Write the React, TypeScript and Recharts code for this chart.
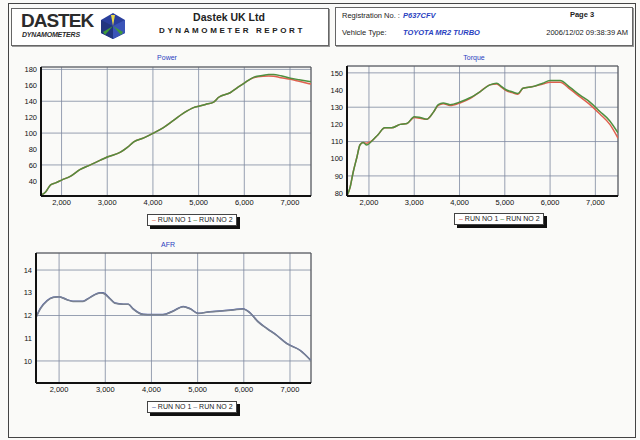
import React from 'react';
import { LineChart, Line, XAxis, YAxis, CartesianGrid, ReferenceLine } from 'recharts';

// Power (hp) vs rpm
const powerRpm = [1550, 1650, 1760, 1870, 2000, 2200, 2400, 2630, 2850, 3000, 3290, 3440, 3580, 3800, 4010, 4230, 4450, 4670, 4890, 5020, 5150, 5330, 5440, 5700, 5850, 6030, 6200, 6420, 6530, 6640, 6800, 7010, 7200, 7460];
const powerRun1 = [22, 26, 35, 37.5, 41, 46, 54, 60, 66, 70, 76, 82, 89, 94, 100, 107, 116, 125, 132, 134, 136, 139, 145, 151, 157, 164, 169.5, 171.5, 171.8, 171.5, 169.5, 167.5, 165, 161.5];
const powerRun2 = [22, 26, 35, 37.5, 41, 46, 54, 60, 66, 70, 76, 82, 89, 94, 100, 107, 116, 125, 132, 134, 136, 139, 145, 151, 157, 164, 170, 172.5, 173.5, 173.5, 172, 169, 167, 164.5];
const powerTicks = [40, 60, 80, 100, 120, 140, 160, 180];

// Torque vs rpm
const torqueRpm = [1515, 1580, 1650, 1735, 1800, 1870, 1950, 2070, 2200, 2350, 2500, 2690, 2840, 3000, 3130, 3280, 3420, 3530, 3640, 3790, 4010, 4230, 4450, 4670, 4820, 4930, 5040, 5160, 5290, 5400, 5620, 5840, 6000, 6220, 6440, 6660, 6880, 7100, 7320, 7500];
const torqueRun1 = [78.5, 83, 92, 101, 108, 109.5, 109, 110.5, 114, 118, 118, 120, 120.5, 124, 123.5, 123, 127, 131, 132, 131, 132.5, 135, 139, 143, 143.5, 141.5, 139.5, 138.5, 137.5, 141, 142, 143.5, 144.5, 144.5, 140.5, 136, 131.5, 126, 120, 112];
const torqueRun2 = [78.5, 83, 92, 101, 108, 109.5, 108, 110.5, 114, 118, 118, 120, 120.5, 124.5, 124, 123, 127, 131.5, 132.5, 131.5, 133, 135.5, 139, 143, 144, 142, 140, 139, 138, 141, 142, 144, 145.5, 145.5, 141.5, 137, 133, 127.5, 122, 115];
const torqueTicks = [80, 90, 100, 110, 120, 130, 140, 150];

// AFR vs rpm
const afrRpm = [1500, 1590, 1740, 1870, 2000, 2170, 2300, 2520, 2670, 2890, 2950, 3100, 3210, 3390, 3500, 3600, 3820, 4010, 4250, 4470, 4690, 4840, 5010, 5270, 5480, 5770, 5980, 6130, 6310, 6500, 6720, 6930, 7220, 7455];
const afrRun1 = [11.92, 12.3, 12.66, 12.8, 12.83, 12.7, 12.63, 12.63, 12.8, 13.0, 13.0, 12.75, 12.55, 12.5, 12.5, 12.3, 12.05, 12.04, 12.04, 12.2, 12.4, 12.3, 12.1, 12.17, 12.2, 12.25, 12.3, 12.13, 11.73, 11.43, 11.12, 10.77, 10.47, 10.02];
const afrRun2 = [11.9, 12.28, 12.64, 12.79, 12.82, 12.69, 12.62, 12.62, 12.79, 12.99, 12.98, 12.74, 12.54, 12.49, 12.49, 12.29, 12.04, 12.03, 12.03, 12.19, 12.39, 12.29, 12.09, 12.16, 12.19, 12.24, 12.29, 12.12, 11.72, 11.42, 11.11, 10.76, 10.46, 10.01];
const afrTicks = [10, 11, 12, 13, 14];

const rpmTicks = [2000, 3000, 4000, 5000, 6000, 7000];

const FONT = '"Liberation Sans", Arial, sans-serif';

const toRows = (rpm: number[], a: number[], b: number[]) =>
  rpm.map((r, i) => ({ rpm: r, run1: a[i], run2: b[i] }));

type ChartProps = {
  left: number;
  top: number;
  width: number;
  height: number;
  margin: { top: number; right: number; bottom: number; left: number };
  yWidth: number;
  title: string;
  data: Array<{ rpm: number; run1: number; run2: number }>;
  xDomain: [number, number];
  yDomain: [number, number];
  yTicks: number[];
  colors: [string, string];
  legendLeft: number;
  legendTop: number;
  titleLeft: number;
  titleTop: number;
};

const DynoChart = (p: ChartProps) => {
  const tick = { fontSize: 7.5, fill: '#111', fontFamily: FONT };
  return (
    <>
      <div style={{ position: 'absolute', left: p.titleLeft, top: p.titleTop, fontSize: 7, color: '#2a3fbf', fontFamily: FONT, transform: 'translateX(-50%)' }}>
        {p.title}
      </div>
      <div style={{ position: 'absolute', left: p.left, top: p.top }}>
        <LineChart width={p.width} height={p.height} data={p.data} margin={p.margin}>
          <CartesianGrid stroke="#7d89a0" strokeWidth={0.8} />
          <XAxis
            dataKey="rpm"
            type="number"
            domain={p.xDomain}
            ticks={rpmTicks}
            allowDataOverflow
            height={14}
            tick={tick}
            tickLine={false}
            tickSize={2}
            tickMargin={2}
            axisLine={{ stroke: '#111', strokeWidth: 2 }}
            tickFormatter={(v: number) => v.toLocaleString('en-US')}
          />
          <YAxis
            type="number"
            domain={p.yDomain}
            ticks={p.yTicks}
            allowDataOverflow
            width={p.yWidth}
            tick={tick}
            tickLine={false}
            tickSize={2}
            tickMargin={2}
            axisLine={{ stroke: '#111', strokeWidth: 2 }}
          />
          <ReferenceLine y={p.yDomain[1]} stroke="#555" strokeWidth={1} />
          <ReferenceLine x={p.xDomain[1]} stroke="#555" strokeWidth={1} />
          <Line type="monotone" dataKey="run1" stroke={p.colors[0]} strokeWidth={1.5} dot={false} isAnimationActive={false} />
          <Line type="monotone" dataKey="run2" stroke={p.colors[1]} strokeWidth={1.5} dot={false} isAnimationActive={false} />
        </LineChart>
      </div>
      <div
        style={{
          position: 'absolute',
          left: p.legendLeft,
          top: p.legendTop,
          width: 84,
          height: 10,
          border: '1px solid #444',
          background: '#fff',
          boxShadow: '3px 3px 0 #111',
          fontSize: 7,
          lineHeight: '10px',
          fontFamily: FONT,
          color: '#222',
          whiteSpace: 'nowrap',
          paddingLeft: 4,
        }}
      >
        <span style={{ color: p.colors[0] }}>–</span> RUN NO 1 <span style={{ color: p.colors[1] }}>–</span> RUN NO 2
      </div>
    </>
  );
};

const Logo = () => (
  <div style={{ position: 'absolute', left: 21, top: 12, width: 110, height: 30 }}>
    <div style={{ position: 'absolute', left: 0, top: -2, fontFamily: FONT, fontWeight: 900, fontSize: 19, letterSpacing: -1, color: '#2b2b2b' }}>
      DASTEK
    </div>
    <div style={{ position: 'absolute', left: 1, top: 19, fontFamily: FONT, fontWeight: 700, fontSize: 7, color: '#2b2b2b', fontStyle: 'italic', letterSpacing: -0.2 }}>
      DYNAMOMETERS
    </div>
    <svg style={{ position: 'absolute', left: 79, top: 0 }} width={26} height={28} viewBox="0 0 26 28">
      <polygon points="13,1 25,8 25,21 13,27 1,21 1,8" fill="#2a3f9c" />
      <polygon points="13,14 25,8 25,21 13,27" fill="#3b54b8" />
      <polygon points="13,14 1,8 1,21 13,27" fill="#22357f" />
      <polygon points="13,14 11,3 15,3" fill="#e8d84a" />
      <polygon points="13,14 3,20 5,23" fill="#3f9a3a" />
      <polygon points="13,14 23,20 21,23" fill="#3f9a3a" />
    </svg>
  </div>
);

export default function App() {
  return (
    <div style={{ position: 'absolute', left: 0, top: 0, width: 640, height: 440, background: '#fafaf8', overflow: 'hidden', fontFamily: FONT }}>
      {/* page frame */}
      <div style={{ position: 'absolute', left: 8, top: 3, width: 626, height: 433, border: '1px solid #444' }} />
      {/* header boxes */}
      <div style={{ position: 'absolute', left: 11, top: 8, width: 316, height: 36, border: '1px solid #666', boxShadow: '1px 1px 0 #999', background: '#fff' }} />
      <div style={{ position: 'absolute', left: 335, top: 7, width: 296, height: 37, border: '1px solid #666', boxShadow: '1px 1px 0 #999', background: '#fff' }} />
      <Logo />
      <div style={{ position: 'absolute', left: 229, top: 11, fontSize: 10.5, fontWeight: 700, color: '#222', transform: 'translateX(-50%)', whiteSpace: 'nowrap' }}>
        Dastek UK Ltd
      </div>
      <div style={{ position: 'absolute', left: 159, top: 26, fontSize: 8, fontWeight: 700, letterSpacing: 2.6, color: '#222', whiteSpace: 'nowrap' }}>
        DYNAMOMETER REPORT
      </div>
      <div style={{ position: 'absolute', left: 342, top: 11, fontSize: 7.5, color: '#222' }}>Registration No. :</div>
      <div style={{ position: 'absolute', left: 403, top: 11, fontSize: 7.5, color: '#2a3fbf', fontWeight: 700, fontStyle: 'italic' }}>P637CFV</div>
      <div style={{ position: 'absolute', left: 342, top: 28, fontSize: 7.5, color: '#222' }}>Vehicle Type:</div>
      <div style={{ position: 'absolute', left: 403, top: 28, fontSize: 7.5, color: '#2a3fbf', fontWeight: 700, fontStyle: 'italic' }}>TOYOTA MR2 TURBO</div>
      <div style={{ position: 'absolute', left: 582, top: 10, fontSize: 7.5, color: '#222', fontWeight: 700, transform: 'translateX(-50%)' }}>Page 3</div>
      <div style={{ position: 'absolute', right: 12, top: 28, fontSize: 7.5, color: '#222', whiteSpace: 'nowrap' }}>2006/12/02 09:38:39 AM</div>

      <DynoChart
        left={0} top={50} width={320} height={190}
        margin={{ top: 17, right: 9, bottom: 30, left: 16 }}
        yWidth={25}
        title="Power" titleLeft={167} titleTop={54}
        data={toRows(powerRpm, powerRun1, powerRun2)}
        xDomain={[1550, 7460]} yDomain={[21, 183]} yTicks={powerTicks}
        colors={['#e0604e', '#4f8f3f']}
        legendLeft={147} legendTop={214}
      />
      <DynoChart
        left={320} top={50} width={320} height={190}
        margin={{ top: 16, right: 22, bottom: 30, left: 2 }}
        yWidth={25}
        title="Torque" titleLeft={474} titleTop={54}
        data={toRows(torqueRpm, torqueRun1, torqueRun2)}
        xDomain={[1515, 7500]} yDomain={[78.3, 154]} yTicks={torqueTicks}
        colors={['#e0604e', '#4f8f3f']}
        legendLeft={454} legendTop={213}
      />
      <DynoChart
        left={0} top={235} width={320} height={190}
        margin={{ top: 18, right: 9, bottom: 28, left: 16 }}
        yWidth={20}
        title="AFR" titleLeft={168} titleTop={241}
        data={toRows(afrRpm, afrRun1, afrRun2)}
        xDomain={[1500, 7455]} yDomain={[9.03, 14.75]} yTicks={afrTicks}
        colors={['#4f5fae', '#7a8290']}
        legendLeft={147} legendTop={401}
      />
    </div>
  );
}
